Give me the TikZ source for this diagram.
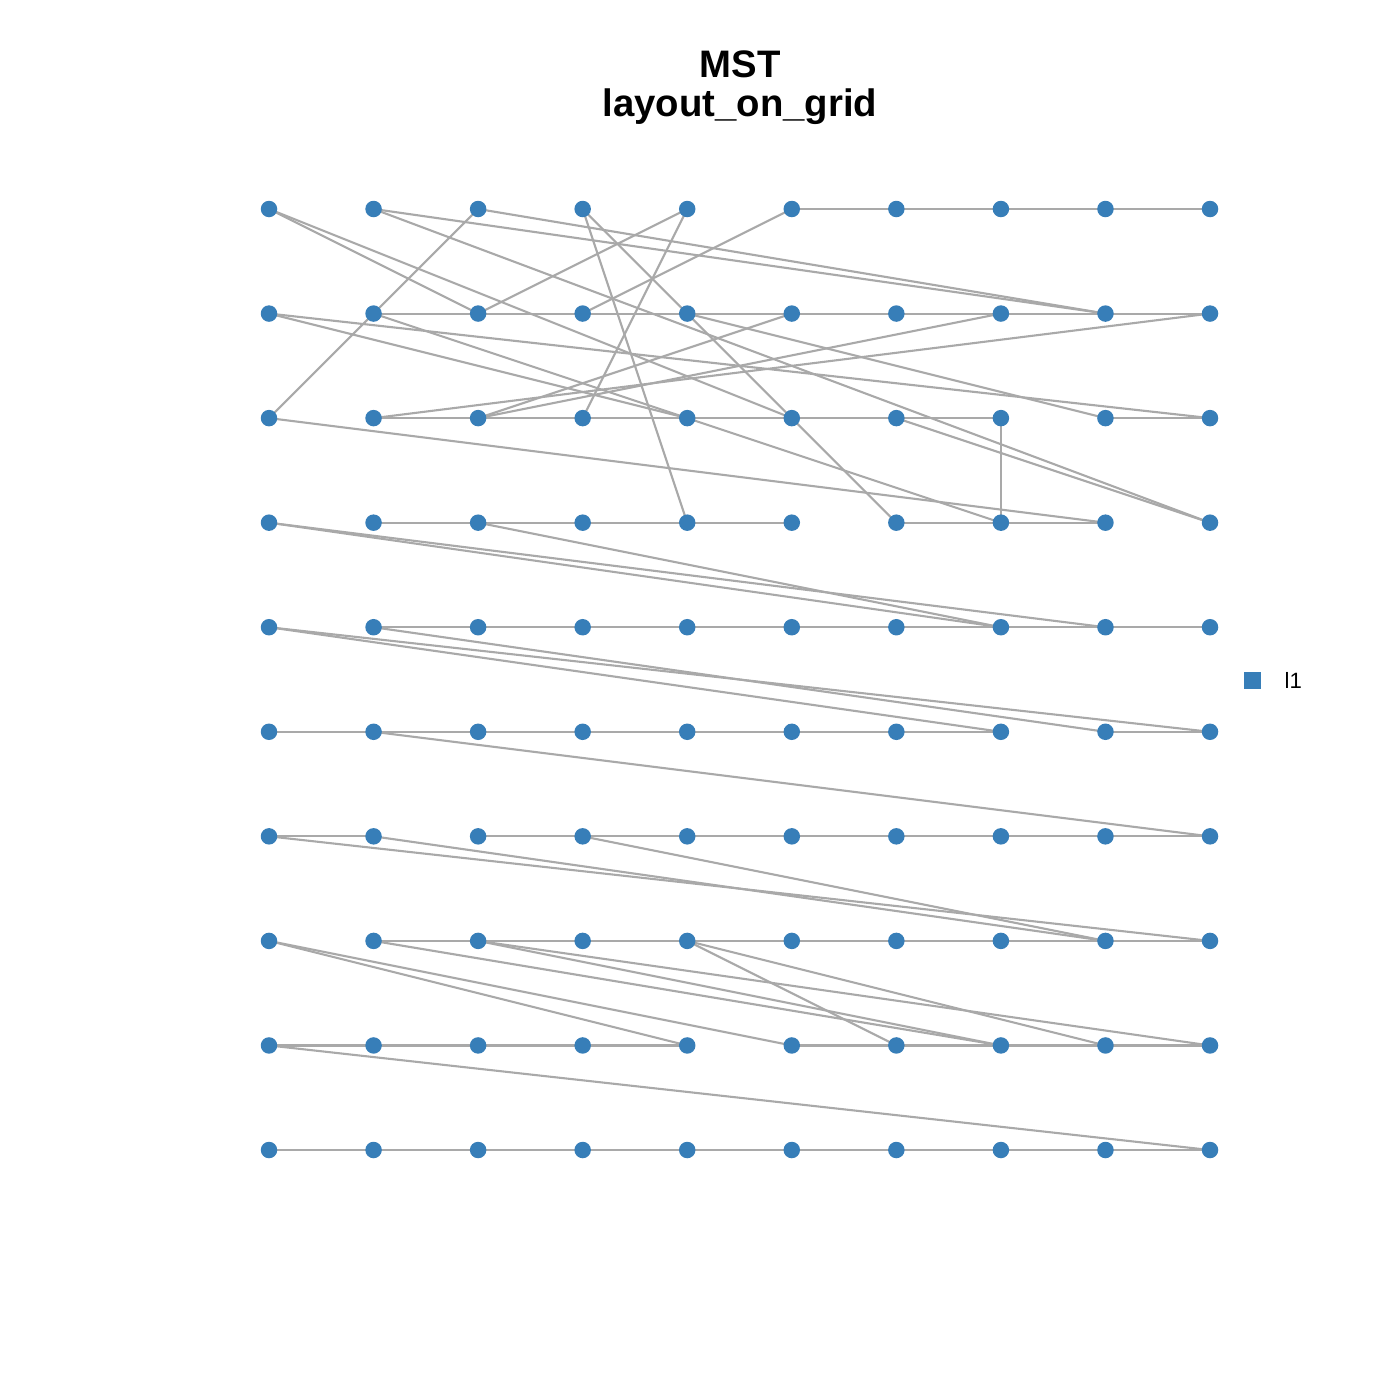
\documentclass[tikz,border=0pt]{standalone}
\usepackage{fontspec}
\setmainfont{Liberation Sans}
\usetikzlibrary{backgrounds}
\definecolor{dotblue}{HTML}{377EB8}
\definecolor{edgegray}{HTML}{A9A9A9}
\begin{document}
\begin{tikzpicture}[x=1cm,y=1cm,
  dot/.style={circle,fill=dotblue,inner sep=0pt,minimum size=0.165cm},
  edge/.style={draw=edgegray,line width=0.6pt},
  ttl/.style={font=\fontsize{10.9}{13}\selectfont\bfseries,anchor=base}]
\useasboundingbox (0,0) rectangle (14,-14);
% title
\node[ttl] (t1) at (7.40,-0.775) {MST};
\node[ttl] (t2) at (7.40,-1.16) {layout\_on\_grid};
% nodes
\foreach \r in {0,...,9}{
  \foreach \c in {0,...,9}{
    \node[dot] (n\r\c) at ({2.69+1.04556*\c},{-2.09-1.04556*\r}) {};
  }
}
% edges
\begin{scope}[on background layer]
\foreach \a/\b in {05/06,06/07,07/08,08/09,
  11/12,12/13,13/14,14/15,15/16,16/17,17/18,18/19,
  21/22,22/23,23/24,24/25,25/26,26/27,28/29,
  31/32,32/33,33/34,34/35,36/37,37/38,
  41/42,42/43,43/44,44/45,45/46,46/47,47/48,48/49,
  50/51,51/52,52/53,53/54,54/55,55/56,56/57,58/59,
  60/61,62/63,63/64,64/65,65/66,66/67,67/68,68/69,
  71/72,72/73,73/74,74/75,75/76,76/77,77/78,78/79,
  80/81,81/82,82/83,83/84,85/86,86/87,87/88,88/89,
  90/91,91/92,92/93,93/94,94/95,95/96,96/97,97/98,98/99,
  27/37,
  00/12,00/25,01/18,01/39,02/18,02/11,11/20,03/34,03/14,14/25,25/36,
  04/12,04/23,05/13,10/29,10/24,11/24,24/37,14/28,15/22,17/22,19/21,
  20/38,26/39,30/48,30/47,32/47,40/57,40/59,41/58,51/69,60/79,61/78,
  63/78,70/84,70/85,74/86,74/88,72/89,72/87,71/87,80/99}{
  \draw[edge] (n\a.center) -- (n\b.center);
}
\end{scope}
% legend
\node[fill=dotblue,inner sep=0pt,minimum size=0.17cm] (lg) at (12.52,-6.80) {};
\node[anchor=west,font=\fontsize{6.3}{7}\selectfont,inner sep=0pt] (lgt) at (12.84,-6.80) {l1};
\end{tikzpicture}
\end{document}
